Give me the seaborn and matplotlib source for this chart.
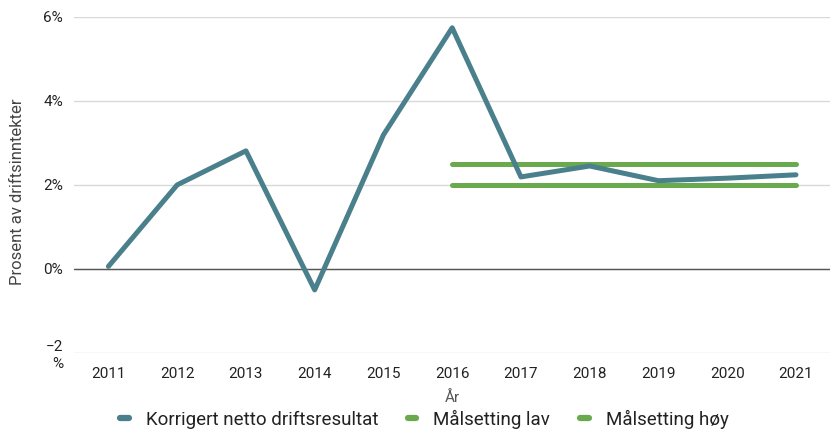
import pandas as pd
import matplotlib.pyplot as plt
import seaborn as sns
from matplotlib.ticker import FuncFormatter

# data
years = [2011, 2012, 2013, 2014, 2015, 2016, 2017, 2018, 2019, 2020, 2021]
netto = [0.06, 2.0, 2.81, -0.5, 3.19, 5.74, 2.19, 2.45, 2.1, 2.16, 2.24]
maal_years = [2016, 2017, 2018, 2019, 2020, 2021]
maal_lav = [2.0, 2.0, 2.0, 2.0, 2.0, 2.0]
maal_hoy = [2.5, 2.5, 2.5, 2.5, 2.5, 2.5]
yticks = [-2, 0, 2, 4, 6]

df = pd.DataFrame({"År": years, "verdi": netto})
df_lav = pd.DataFrame({"År": maal_years, "verdi": maal_lav})
df_hoy = pd.DataFrame({"År": maal_years, "verdi": maal_hoy})

sns.set_theme(style="white")
plt.rcParams["font.family"] = ["Roboto", "DejaVu Sans"]

fig = plt.figure(figsize=(8.32, 4.32), dpi=100)
ax = fig.add_axes([0.089, 0.183, 0.909, 0.778])

teal = "#4a7f8c"
green = "#6aaa4f"

sns.lineplot(data=df_lav, x="År", y="verdi", ax=ax, color=green, linewidth=3.6,
             label="Målsetting lav", zorder=3)
sns.lineplot(data=df_hoy, x="År", y="verdi", ax=ax, color=green, linewidth=3.6,
             label="Målsetting høy", zorder=3)
sns.lineplot(data=df, x="År", y="verdi", ax=ax, color=teal, linewidth=3.6,
             label="Korrigert netto driftsresultat", zorder=4)

ax.set_xlim(2010.5, 2021.5)
ax.set_ylim(-2, 6)
ax.set_xticks(years)
ax.set_yticks(yticks)
ax.yaxis.set_major_formatter(FuncFormatter(lambda v, p: "−2\n%" if v < 0 else f"{int(v)}%"))
ax.grid(axis="y", color="#d9d9d9", linewidth=1)
ax.axhline(0, color="#555555", linewidth=1, zorder=2)
for s in ax.spines.values():
    s.set_visible(False)
ax.tick_params(axis="both", length=0, labelsize=11, colors="#222222")
ax.tick_params(axis="x", pad=10)
ax.tick_params(axis="y", pad=8)

ax.set_xlabel("År", fontsize=11, color="#555555", labelpad=7)
ax.set_ylabel("Prosent av driftsinntekter", fontsize=12, color="#444444")
ax.yaxis.set_label_coords(-0.065, 0.48)

handles, labels = ax.get_legend_handles_labels()
ax.get_legend().remove()
order = [2, 0, 1]
leg = fig.legend([handles[i] for i in order], [labels[i] for i in order],
                 loc="center", bbox_to_anchor=(0.51, 0.03), ncol=3,
                 frameon=False, fontsize=13.5, handlelength=0.45, handletextpad=0.9,
                 columnspacing=1.6, borderpad=0)
for line in leg.get_lines():
    line.set_linewidth(4.5)
    line.set_solid_capstyle("round")
for t in leg.get_texts():
    t.set_color("#222222")

plt.savefig("out.png", dpi=100)
